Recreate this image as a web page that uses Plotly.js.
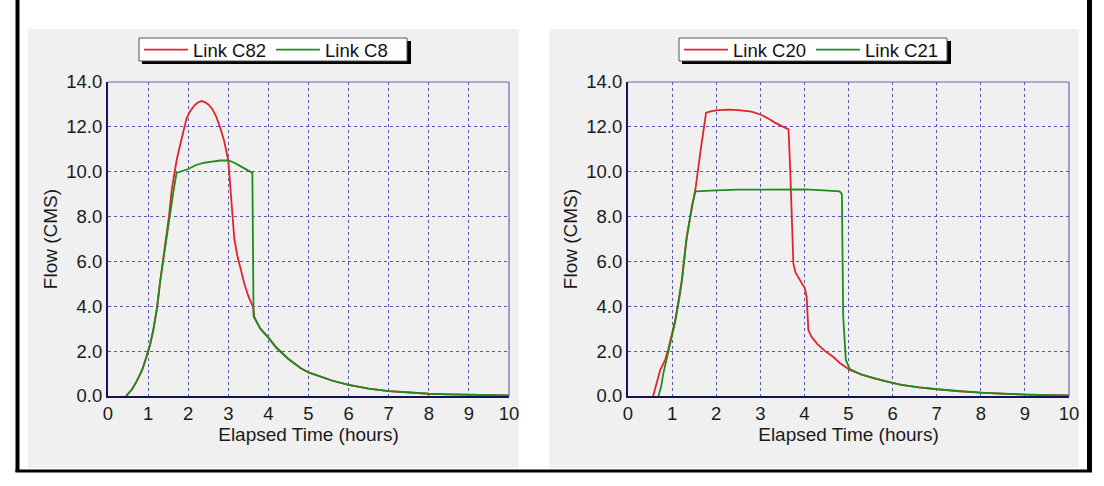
<!DOCTYPE html>
<html><head><meta charset="utf-8">
<script src="https://cdn.plot.ly/plotly-3.0.1.min.js"></script>
<style>html,body{margin:0;padding:0;background:#fff}#chart{width:1104px;height:486px}</style>
</head><body><div id="chart"></div>
<script>
// ---- Data (left chart) ----
const c82Time = [0.45,0.6,0.71,0.85,0.96,1.05,1.13,1.22,1.30,1.38,1.46,1.52,1.59,1.65,1.71,1.8,1.88,1.96,2.04,2.15,2.25,2.34,2.42,2.5,2.6,2.7,2.8,2.9,3.0,3.06,3.1,3.15,3.22,3.3,3.4,3.5,3.62,3.65,3.8,4.0,4.2,4.5,4.8,5.0,5.3,5.6,6.0,6.5,7.0,7.5,8.0,8.5,9.0,9.5,10.0];
const c82Flow = [0,0.3,0.64,1.15,1.75,2.3,2.94,3.9,5.1,6.1,7.1,8.0,9.2,9.9,10.5,11.2,11.86,12.38,12.68,12.95,13.1,13.15,13.1,13.0,12.8,12.45,11.95,11.35,10.5,9.0,8.0,7.0,6.3,5.7,5.0,4.45,3.95,3.5,3.0,2.6,2.15,1.65,1.25,1.05,0.85,0.68,0.5,0.33,0.22,0.15,0.1,0.07,0.05,0.04,0.03];
const c8Time = [0.45,0.6,0.71,0.85,0.96,1.05,1.13,1.22,1.30,1.38,1.46,1.55,1.63,1.71,1.85,2.0,2.2,2.4,2.6,2.8,3.0,3.15,3.3,3.45,3.6,3.63,3.8,4.0,4.2,4.5,4.8,5.0,5.3,5.6,6.0,6.5,7.0,7.5,8.0,8.5,9.0,9.5,10.0];
const c8Flow = [0,0.3,0.64,1.15,1.75,2.3,2.94,3.9,5.1,6.1,7.1,8.1,9.1,9.95,10.02,10.12,10.3,10.4,10.45,10.5,10.5,10.4,10.25,10.1,9.95,3.56,3.0,2.6,2.15,1.65,1.25,1.05,0.85,0.68,0.5,0.33,0.22,0.15,0.1,0.07,0.05,0.04,0.03];
// ---- Data (right chart) ----
const c20Time = [0.57,0.65,0.73,0.84,0.91,1.0,1.07,1.15,1.22,1.33,1.45,1.535,1.65,1.77,1.9,2.05,2.3,2.5,2.8,3.03,3.2,3.33,3.5,3.64,3.68,3.71,3.75,3.8,3.86,3.95,4.01,4.05,4.09,4.16,4.3,4.47,4.65,4.81,5.03,5.3,5.6,5.87,6.2,6.6,7.0,7.5,8.0,8.5,9.0,9.5,10.0];
const c20Flow = [0,0.55,1.16,1.6,2.05,2.8,3.39,4.3,5.17,7.1,8.5,9.3,11.0,12.63,12.7,12.75,12.77,12.75,12.68,12.53,12.35,12.19,12.02,11.89,10.0,7.7,5.9,5.5,5.32,5.0,4.8,4.43,2.94,2.64,2.3,2.0,1.75,1.46,1.16,0.95,0.78,0.64,0.5,0.38,0.3,0.21,0.15,0.1,0.06,0.04,0.03];
const c21Time = [0.69,0.75,0.8,0.91,1.0,1.07,1.15,1.22,1.33,1.45,1.53,1.7,2.0,2.5,3.0,3.5,4.0,4.35,4.6,4.8,4.85,4.86,4.88,4.94,5.03,5.3,5.6,5.87,6.2,6.6,7.0,7.5,8.0,8.5,9.0,9.5,10.0];
const c21Flow = [0,0.4,1.0,1.9,2.7,3.3,4.2,5.1,7.0,8.5,9.12,9.15,9.17,9.2,9.21,9.22,9.21,9.18,9.15,9.12,9.0,7.4,3.54,1.6,1.2,0.95,0.78,0.64,0.5,0.38,0.3,0.21,0.15,0.1,0.06,0.04,0.03];
// ---- Ticks ----
const xTicks = [0,1,2,3,4,5,6,7,8,9,10];
const yTicks = [0,2,4,6,8,10,12,14];
const yTickText = ['0.0','2.0','4.0','6.0','8.0','10.0','12.0','14.0'];

const W = 1104, H = 486;
const px = v => v / W, py = v => 1 - v / H;
const FONT = 'Liberation Sans, Arial, sans-serif';
const RED = '#e4222a', GREEN = '#1e8c1e';

const traces = [
  {x: c82Time, y: c82Flow, name: 'Link C82', mode: 'lines', line: {color: RED, width: 1.8}, xaxis: 'x', yaxis: 'y', legend: 'legend'},
  {x: c8Time, y: c8Flow, name: 'Link C8', mode: 'lines', line: {color: GREEN, width: 1.8}, xaxis: 'x', yaxis: 'y', legend: 'legend'},
  {x: c20Time, y: c20Flow, name: 'Link C20', mode: 'lines', line: {color: RED, width: 1.8}, xaxis: 'x2', yaxis: 'y2', legend: 'legend2'},
  {x: c21Time, y: c21Flow, name: 'Link C21', mode: 'lines', line: {color: GREEN, width: 1.8}, xaxis: 'x2', yaxis: 'y2', legend: 'legend2'}
];

function xax(domain, anchor) {
  return {domain: domain, anchor: anchor, range: [0, 10], tickvals: xTicks, ticktext: xTicks.map(String),
    showgrid: true, gridcolor: '#5858b0', griddash: 'dot', gridwidth: 1, zeroline: false,
    showline: true, linecolor: '#14145a', linewidth: 2, ticks: '', automargin: false,
    tickfont: {family: FONT, size: 18.5, color: '#1a1a1a'},
    title: {text: 'Elapsed Time (hours)', font: {family: FONT, size: 19, color: '#1a1a1a'}, standoff: 1}};
}
function yax(domain, anchor) {
  return {domain: domain, anchor: anchor, range: [0, 14], tickvals: yTicks, ticktext: yTickText,
    showgrid: true, gridcolor: '#5858b0', griddash: 'dot', gridwidth: 1, zeroline: false,
    showline: true, linecolor: '#14145a', linewidth: 2, ticks: '', automargin: false,
    tickfont: {family: FONT, size: 18.5, color: '#1a1a1a'},
    title: {text: 'Flow (CMS)', font: {family: FONT, size: 19, color: '#1a1a1a'}, standoff: 4}};
}
const yDom = [py(396), py(82)];

function legendBox(x0, x1) {
  return [
    {type: 'rect', xref: 'paper', yref: 'paper', x0: px(x0 + 3), x1: px(x1 + 4), y0: py(64), y1: py(41), fillcolor: '#000', line: {width: 0}, layer: 'below'},
    {type: 'rect', xref: 'paper', yref: 'paper', x0: px(x0), x1: px(x1), y0: py(61), y1: py(38), fillcolor: '#fff', line: {color: '#555', width: 1}, layer: 'below'}
  ];
}

const shapes = [
  // grey panels
  {type: 'rect', xref: 'paper', yref: 'paper', x0: px(28), x1: px(519), y0: py(468), y1: py(29), fillcolor: '#f0f0f0', line: {width: 0}, layer: 'below'},
  {type: 'rect', xref: 'paper', yref: 'paper', x0: px(549), x1: px(1079), y0: py(468), y1: py(29), fillcolor: '#f0f0f0', line: {width: 0}, layer: 'below'},
  ...legendBox(139, 407),
  ...legendBox(679, 947),
  // outer frame
  {type: 'line', xref: 'paper', yref: 'paper', x0: px(17.5), x1: px(17.5), y0: py(0), y1: py(472), line: {color: '#000', width: 4}},
  {type: 'line', xref: 'paper', yref: 'paper', x0: px(1089.5), x1: px(1089.5), y0: py(0), y1: py(472), line: {color: '#000', width: 5}},
  {type: 'line', xref: 'paper', yref: 'paper', x0: px(15.5), x1: px(1092), y0: py(471), y1: py(471), line: {color: '#000', width: 3}},
  // top / right plot borders
  {type: 'line', xref: 'x domain', yref: 'y domain', x0: 0, x1: 1, y0: 1, y1: 1, line: {color: '#6464b4', width: 1.2}},
  {type: 'line', xref: 'x domain', yref: 'y domain', x0: 1, x1: 1, y0: 0, y1: 1, line: {color: '#6464b4', width: 1.2}},
  {type: 'line', xref: 'x2 domain', yref: 'y2 domain', x0: 0, x1: 1, y0: 1, y1: 1, line: {color: '#6464b4', width: 1.2}},
  {type: 'line', xref: 'x2 domain', yref: 'y2 domain', x0: 1, x1: 1, y0: 0, y1: 1, line: {color: '#6464b4', width: 1.2}}
];

function leg(xl) {
  return {orientation: 'h', x: px(xl), xanchor: 'left', y: py(50), yanchor: 'middle', bgcolor: 'rgba(0,0,0,0)',
    borderwidth: 0, font: {family: FONT, size: 18.5, color: '#111'}, itemwidth: 44,
    tracegroupgap: 0, itemclick: false, itemdoubleclick: false};
}

const layout = {
  width: W, height: H, margin: {l: 0, r: 0, t: 0, b: 0}, paper_bgcolor: '#fff', plot_bgcolor: '#fff',
  font: {family: FONT},
  xaxis: xax([px(108), px(509)], 'y'), yaxis: yax(yDom, 'x'),
  xaxis2: xax([px(628), px(1069)], 'y2'), yaxis2: yax(yDom, 'x2'),
  legend: leg(139), legend2: leg(679),
  shapes: shapes
};
Plotly.newPlot('chart', traces, layout, {displayModeBar: false, staticPlot: true});
</script></body></html>
